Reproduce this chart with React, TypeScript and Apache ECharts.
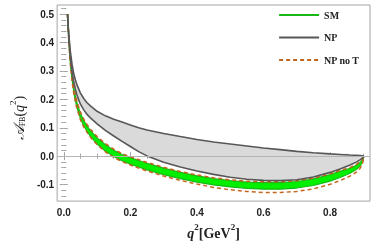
import React, { useEffect, useRef } from "react";
import * as echarts from "echarts";

const q2 = [0.0112, 0.013, 0.015, 0.0175, 0.02, 0.025, 0.03, 0.035, 0.04, 0.05, 0.06, 0.07, 0.08, 0.1, 0.125, 0.15, 0.175, 0.2, 0.225, 0.25, 0.3, 0.35, 0.4, 0.45, 0.5, 0.55, 0.6, 0.65, 0.7, 0.75, 0.8, 0.83, 0.86, 0.88, 0.89, 0.897, 0.902];

const npUpper = [0.5, 0.465, 0.43, 0.395, 0.365, 0.322, 0.29, 0.268, 0.25, 0.222, 0.203, 0.188, 0.177, 0.158, 0.142, 0.13, 0.12, 0.11, 0.1, 0.092, 0.08, 0.069, 0.059, 0.05, 0.043, 0.036, 0.029, 0.023, 0.017, 0.012, 0.008, 0.006, 0.004, 0.003, 0.002, 0.001, 0.0];
const npLower = [0.5, 0.46, 0.42, 0.38, 0.345, 0.295, 0.26, 0.235, 0.213, 0.183, 0.163, 0.147, 0.135, 0.114, 0.091, 0.071, 0.052, 0.034, 0.016, 0.001, -0.021, -0.038, -0.052, -0.064, -0.074, -0.081, -0.085, -0.086, -0.083, -0.073, -0.057, -0.045, -0.031, -0.02, -0.013, -0.007, 0.0];
const smUpper = [0.5, 0.455, 0.415, 0.37, 0.335, 0.28, 0.24, 0.21, 0.186, 0.15, 0.125, 0.106, 0.09, 0.064, 0.04, 0.021, 0.006, -0.005, -0.015, -0.025, -0.042, -0.057, -0.069, -0.079, -0.086, -0.091, -0.093, -0.093, -0.089, -0.08, -0.065, -0.053, -0.043, -0.031, -0.022, -0.013, 0.0];
const smLower = [0.5, 0.452, 0.41, 0.362, 0.325, 0.268, 0.226, 0.195, 0.17, 0.133, 0.107, 0.087, 0.07, 0.043, 0.018, -0.001, -0.016, -0.028, -0.038, -0.048, -0.065, -0.079, -0.091, -0.101, -0.108, -0.113, -0.116, -0.116, -0.112, -0.103, -0.088, -0.075, -0.06, -0.046, -0.035, -0.022, 0.0];
const noTUpper = [0.5, 0.457, 0.418, 0.374, 0.339, 0.285, 0.245, 0.215, 0.191, 0.155, 0.13, 0.111, 0.095, 0.069, 0.044, 0.025, 0.009, -0.002, -0.012, -0.022, -0.039, -0.054, -0.066, -0.076, -0.083, -0.088, -0.09, -0.09, -0.086, -0.077, -0.062, -0.05, -0.04, -0.028, -0.019, -0.011, 0.0];
const noTLower = [0.5, 0.45, 0.407, 0.358, 0.32, 0.263, 0.221, 0.19, 0.165, 0.128, 0.103, 0.084, 0.067, 0.041, 0.015, -0.004, -0.019, -0.031, -0.042, -0.052, -0.07, -0.085, -0.098, -0.11, -0.118, -0.124, -0.128, -0.128, -0.124, -0.115, -0.099, -0.086, -0.07, -0.055, -0.043, -0.029, 0.0];

const xMajor = [0, 0.2, 0.4, 0.6, 0.8];
const xMinor = [0.05, 0.1, 0.15, 0.25, 0.3, 0.35, 0.45, 0.5, 0.55, 0.65, 0.7, 0.75, 0.85, 0.9];
const yMajor = [-0.1, 0, 0.1, 0.2, 0.3, 0.4, 0.5];
const yMinor = [-0.14, -0.12, -0.08, -0.06, -0.04, -0.02, 0.02, 0.04, 0.06, 0.08, 0.12, 0.14, 0.16, 0.18, 0.22, 0.24, 0.26, 0.28, 0.32, 0.34, 0.36, 0.38, 0.42, 0.44, 0.46, 0.48, 0.52];

const legendNames = ["SM", "NP", "NP no T"];

const pairs = (ys: number[]) => q2.map((x, i) => [x, ys[i]]);

const FRAME = "#a3a3a3";
const NPCOL = "#575757";
const GREEN = "#16b816";
const FILLGREEN = "#00f000";
const ORANGE = "#c4661c";

function bandSeries(name: string, upper: number[], lower: number[], fill: string, extra: any = {}) {
  return {
    type: "custom",
    name,
    silent: true,
    xAxisIndex: 0,
    yAxisIndex: 0,
    data: pairs(upper),
    encode: { x: 0, y: 1 },
    renderItem: (params: any, api: any) => {
      if (params.dataIndex !== 0) return null;
      const top = q2.map((x, i) => api.coord([x, upper[i]]));
      const bot = q2.map((x, i) => api.coord([x, lower[i]])).reverse();
      return { type: "polygon", shape: { points: top.concat(bot) }, style: { fill, stroke: "none" } };
    },
    ...extra,
  };
}

export default function App() {
  const ref = useRef<HTMLDivElement>(null);
  useEffect(() => {
    const chart = echarts.init(ref.current!, null, { renderer: "svg" });
    const xBase = { type: "value", min: -0.02, max: 0.92, splitLine: { show: false }, axisLine: { show: false } };
    const yBase = { type: "value", min: -0.158, max: 0.532, splitLine: { show: false }, axisLine: { show: false } };
    const tickStyle = { color: FRAME, width: 1 };
    const lineOpts = { type: "line", showSymbol: false, symbol: "none", silent: true, xAxisIndex: 0, yAxisIndex: 0 };
    chart.setOption({
      animation: false,
      grid: { left: 47, top: 5, width: 323, height: 197, show: true, borderColor: FRAME, borderWidth: 1, backgroundColor: "transparent" },
      legend: {
        data: legendNames.map((n) => ({ name: n, itemStyle: { opacity: 0 } })),
        orient: "vertical",
        left: 278,
        top: 10,
        padding: 0,
        itemWidth: 40,
        itemHeight: 10,
        itemGap: 12.5,
        selectedMode: false,
        itemStyle: { opacity: 0 },
        lineStyle: { width: 2.2 },
        textStyle: { fontFamily: "Liberation Serif", fontWeight: "bold", fontSize: 10, color: "#222" },
      },
      xAxis: [
        {
          ...xBase, position: "bottom",
          axisTick: { show: true, inside: true, length: 4, customValues: xMajor, lineStyle: tickStyle },
          axisLabel: { customValues: xMajor, formatter: (v: number) => v.toFixed(1), fontFamily: "Liberation Sans", fontWeight: "bold", fontSize: 10, color: "#222", margin: 6 },
          name: "{q|q}{sup|2}{b|[GeV}{sup|2}{b|]}",
          nameLocation: "middle",
          nameGap: 20,
          nameTextStyle: {
            rich: {
              q: { fontFamily: "Liberation Serif", fontStyle: "italic", fontWeight: "bold", fontSize: 14, color: "#222", lineHeight: 18, verticalAlign: "bottom" },
              b: { fontFamily: "Liberation Serif", fontWeight: "bold", fontSize: 14, color: "#222", lineHeight: 18, verticalAlign: "bottom" },
              sup: { fontFamily: "Liberation Serif", fontWeight: "bold", fontSize: 9, color: "#222", lineHeight: 18, verticalAlign: "top" },
            },
          },
        },
        { ...xBase, position: "bottom", axisTick: { show: true, inside: true, length: 2.5, customValues: xMinor, lineStyle: tickStyle }, axisLabel: { show: false } },
        { ...xBase, position: "top", axisTick: { show: true, inside: true, length: 4, customValues: xMajor, lineStyle: tickStyle }, axisLabel: { show: false } },
        { ...xBase, position: "top", axisTick: { show: true, inside: true, length: 2.5, customValues: xMinor, lineStyle: tickStyle }, axisLabel: { show: false } },
      ],
      yAxis: [
        {
          ...yBase, position: "left",
          axisTick: { show: true, inside: true, length: 4, customValues: yMajor, lineStyle: tickStyle },
          axisLabel: { customValues: yMajor, formatter: (v: number) => v.toFixed(1), fontFamily: "Liberation Sans", fontWeight: "bold", fontSize: 10, color: "#222", margin: 3 },
          name: "{a|𝒜}{s|FB}{b|(}{q|q}{sup|2}{b|)}",
          nameLocation: "middle",
          nameRotate: 90,
          nameGap: 22,
          nameTextStyle: {
            padding: [0, 30, 0, 0],
            rich: {
              a: { fontFamily: "DejaVu Serif", fontStyle: "italic", fontSize: 15, color: "#222", lineHeight: 18, verticalAlign: "bottom" },
              s: { fontFamily: "Liberation Serif", fontSize: 8, color: "#222", lineHeight: 14, verticalAlign: "bottom" },
              b: { fontFamily: "Liberation Serif", fontSize: 14, color: "#222", lineHeight: 18, verticalAlign: "bottom" },
              q: { fontFamily: "Liberation Serif", fontStyle: "italic", fontSize: 14, color: "#222", lineHeight: 18, verticalAlign: "bottom" },
              sup: { fontFamily: "Liberation Serif", fontSize: 9, color: "#222", lineHeight: 18, verticalAlign: "top" },
            },
          },
        },
        { ...yBase, position: "left", axisTick: { show: true, inside: true, length: 2.5, customValues: yMinor, lineStyle: tickStyle }, axisLabel: { show: false } },
        { ...yBase, position: "right", axisTick: { show: true, inside: true, length: 4, customValues: yMajor, lineStyle: tickStyle }, axisLabel: { show: false } },
        { ...yBase, position: "right", axisTick: { show: true, inside: true, length: 2.5, customValues: yMinor, lineStyle: tickStyle }, axisLabel: { show: false } },
      ],
      series: [
        bandSeries("npBand", npUpper, npLower, "#dadada", {
          markLine: { silent: true, symbol: "none", label: { show: false }, lineStyle: { color: "#b4b4b4", width: 1, type: "solid" }, data: [{ yAxis: 0 }] },
        }),
        bandSeries("smBand", smUpper, smLower, FILLGREEN),
        { ...lineOpts, name: "SM", data: pairs(smUpper), lineStyle: { color: GREEN, width: 1.2 }, itemStyle: { color: GREEN } },
        { ...lineOpts, name: "SM", data: pairs(smLower), lineStyle: { color: GREEN, width: 1.2 }, itemStyle: { color: GREEN } },
        { ...lineOpts, name: "NP no T", data: pairs(noTUpper), lineStyle: { color: ORANGE, width: 1.5, type: [4, 3] }, itemStyle: { color: ORANGE } },
        { ...lineOpts, name: "NP no T", data: pairs(noTLower), lineStyle: { color: ORANGE, width: 1.5, type: [4, 3] }, itemStyle: { color: ORANGE } },
        { ...lineOpts, name: "NP", data: pairs(npUpper), lineStyle: { color: NPCOL, width: 1.6 }, itemStyle: { color: NPCOL } },
        { ...lineOpts, name: "NP", data: pairs(npLower), lineStyle: { color: NPCOL, width: 1.6 }, itemStyle: { color: NPCOL } },
      ],
    });
    return () => chart.dispose();
  }, []);
  return <div ref={ref} style={{ position: "fixed", left: 0, top: 0, width: 375, height: 245 }} />;
}
